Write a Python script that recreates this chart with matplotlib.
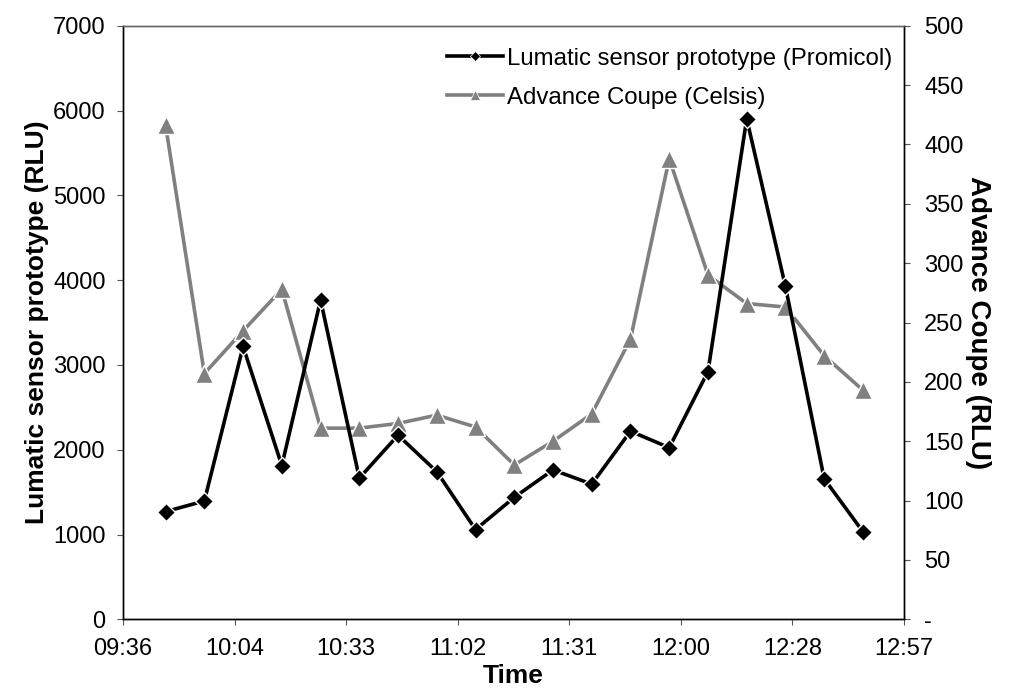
import matplotlib.pyplot as plt
from matplotlib.lines import Line2D

# sample times (every 10 min) and readings
times = ["09:47", "09:57", "10:07", "10:17", "10:27", "10:37", "10:47", "10:57",
         "11:07", "11:17", "11:27", "11:37", "11:47", "11:57", "12:07", "12:17",
         "12:27", "12:37", "12:47"]
promicol = [1270, 1395, 3217, 1813, 3765, 1665, 2171, 1741, 1058, 1438,
            1762, 1594, 2218, 2024, 2922, 5902, 3925, 1657, 1033]
celsis = [416, 207, 243, 278, 161, 161, 165, 172, 162, 130,
          150, 173, 236, 388, 290, 266, 263, 222, 193]

x_tick_labels = ["09:36", "10:04", "10:33", "11:02", "11:31", "12:00", "12:28", "12:57"]
left_ticks = [0, 1000, 2000, 3000, 4000, 5000, 6000, 7000]
right_ticks = [0, 50, 100, 150, 200, 250, 300, 350, 400, 450, 500]
right_tick_labels = ["-", "50", "100", "150", "200", "250", "300", "350", "400", "450", "500"]

plt.rcParams['font.family'] = ['Liberation Sans', 'DejaVu Sans']

# convert HH:MM to minutes since midnight
def to_min(t):
    h, m = t.split(':')
    return int(h) * 60 + int(m)

x = [to_min(t) for t in times]
x_ticks = [576 + 28.8 * i for i in range(len(x_tick_labels))]

grey = '#808080'

fig = plt.figure(figsize=(10.18, 6.93), dpi=100)
ax = fig.add_axes([123 / 1018, 1 - 619.3 / 693, (904 - 123) / 1018, (619.3 - 25.7) / 693])
ax2 = ax.twinx()

ax.plot(x, promicol, color='black', lw=2.6, marker='D', ms=9.5,
        mfc='black', mec='white', mew=1.0, zorder=3)
ax2.plot(x, celsis, color=grey, lw=2.6, marker='^', ms=13,
         mfc=grey, mec='white', mew=1.0, zorder=2)

# keep the black series on top
ax.set_zorder(ax2.get_zorder() + 1)
ax.patch.set_visible(False)

ax.set_xlim(576, 777.6)
ax.set_xticks(x_ticks)
ax.set_xticklabels(x_tick_labels, fontsize=17)
ax.set_ylim(0, 7000)
ax.set_yticks(left_ticks)
ax.tick_params(axis='y', labelsize=17)
ax2.set_ylim(0, 500)
ax2.set_yticks(right_ticks)
ax2.set_yticklabels(right_tick_labels, fontsize=17)

for a in (ax, ax2):
    a.tick_params(direction='out', length=4.5, width=0.8, color='#555555')
    for s in a.spines.values():
        s.set_linewidth(1.0)
    a.spines['top'].set_color('#666666')
ax.tick_params(axis='x', pad=9)
ax.tick_params(axis='y', pad=8)
ax2.tick_params(axis='y', pad=10)

ax.set_xlabel('Time', fontsize=19, fontweight='bold', labelpad=3)
ax.set_ylabel('Lumatic sensor prototype (RLU)', fontsize=19, fontweight='bold', labelpad=3)
ax2.set_ylabel('Advance Coupe (RLU)', fontsize=20, fontweight='bold', rotation=-90, labelpad=20)

handles = [
    Line2D([], [], color='black', lw=2.6, marker='D', ms=5, mfc='black', mec='white', mew=0.5),
    Line2D([], [], color=grey, lw=2.6, marker='^', ms=7, mfc=grey, mec='white', mew=0.5),
]
ax.legend(handles, ['Lumatic sensor prototype (Promicol)', 'Advance Coupe (Celsis)'],
          loc='upper left', bbox_to_anchor=(0.403, 0.979), frameon=False, fontsize=17.3,
          handlelength=2.3, handletextpad=0.2, labelspacing=0.7, borderaxespad=0)

plt.savefig('out.png', dpi=100)
